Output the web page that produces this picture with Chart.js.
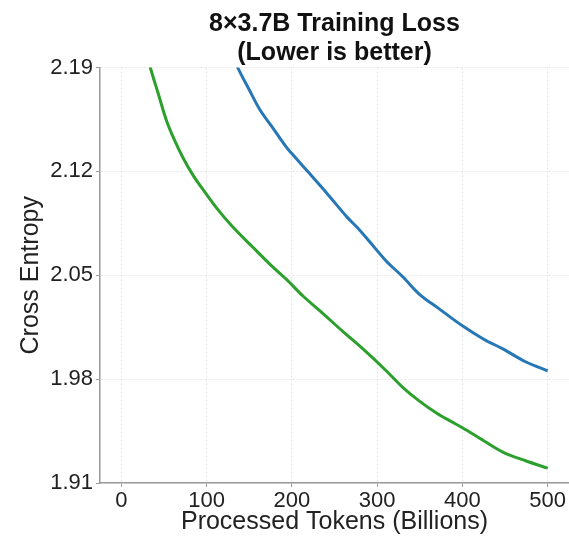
<!DOCTYPE html>
<html>
<head>
<meta charset="utf-8">
<script src="https://cdn.jsdelivr.net/npm/chart.js@4.4.1/dist/chart.umd.min.js"></script>
<style>
  html, body { margin: 0; padding: 0; background: #fff; }
  #wrap { width: 569px; height: 539px; }
</style>
</head>
<body>
<div id="wrap"><canvas id="lossChart" width="569" height="539"></canvas></div>
<script>
// values (tokens in billions, cross entropy)
const greenTokens = [30, 34, 43, 52.5, 62, 72, 84, 98, 113, 130, 154, 175, 194, 213, 233, 260, 284, 310, 330, 350, 370, 385, 400, 425, 448, 474, 500];
const greenLoss = [2.199, 2.19, 2.173, 2.155, 2.1415, 2.1295, 2.1175, 2.106, 2.0944, 2.083, 2.069, 2.057, 2.047, 2.036, 2.026, 2.012, 2.0, 1.986, 1.9745, 1.965, 1.957, 1.952, 1.9472, 1.9385, 1.9307, 1.925, 1.920];

const blueTokens = [133, 136.5, 150, 162, 178, 194, 200, 220, 240, 265, 277, 292, 310, 330, 350, 370, 400, 425, 448, 474, 500];
const blueLoss = [2.195, 2.19, 2.175, 2.162, 2.149, 2.136, 2.132, 2.119, 2.106, 2.089, 2.082, 2.072, 2.060, 2.049, 2.037, 2.0285, 2.0159, 2.0069, 2.0002, 1.9917, 1.9856];

const xTicks = [0, 100, 200, 300, 400, 500];
const yTicks = [1.91, 1.98, 2.05, 2.12, 2.19];

const toPoints = (xs, ys) => xs.map((x, i) => ({ x: x, y: ys[i] }));

const fontFam = "'Liberation Sans', Arial, sans-serif";
const axisGray = '#9a9a9a';
const gridGray = '#e6e6e6';

const ctx = document.getElementById('lossChart').getContext('2d');
new Chart(ctx, {
  type: 'line',
  data: {
    datasets: [
      { label: 'blue', data: toPoints(blueTokens, blueLoss), borderColor: '#2677b5', borderWidth: 3, pointRadius: 0, cubicInterpolationMode: 'monotone' },
      { label: 'green', data: toPoints(greenTokens, greenLoss), borderColor: '#2ca02c', borderWidth: 3, pointRadius: 0, cubicInterpolationMode: 'monotone' }
    ]
  },
  options: {
    responsive: false,
    animation: false,
    layout: { padding: 0 },
    plugins: {
      legend: { display: false },
      tooltip: { enabled: false },
      title: {
        display: true,
        fullSize: false,
        text: ['8×3.7B Training Loss', '(Lower is better)'],
        color: '#111',
        font: { family: fontFam, size: 25, weight: 'bold', lineHeight: 1.15 },
        padding: { top: 10, bottom: 0 }
      }
    },
    scales: {
      x: {
        type: 'linear',
        min: -25,
        max: 525,
        afterBuildTicks: s => { s.ticks = xTicks.map(v => ({ value: v })); },
        afterFit: s => { s.height = 56; },
        ticks: { color: '#222', font: { family: fontFam, size: 22 }, padding: 1, maxRotation: 0 },
        grid: { color: gridGray, tickColor: axisGray, tickLength: 4 },
        border: { color: axisGray, width: 1.5, dash: [2, 2] },
        title: { display: true, text: 'Processed Tokens (Billions)', color: '#222', font: { family: fontFam, size: 25 }, padding: { top: 0, bottom: 2 } }
      },
      y: {
        min: 1.91,
        max: 2.19,
        afterBuildTicks: s => { s.ticks = yTicks.map(v => ({ value: v })); },
        afterFit: s => { s.width = 100; },
        ticks: { color: '#222', font: { family: fontFam, size: 22 }, padding: 3, callback: v => v.toFixed(2) },
        grid: { color: gridGray, tickColor: axisGray, tickLength: 4 },
        border: { color: axisGray, width: 1.5, dash: [2, 2] },
        title: { display: true, text: 'Cross Entropy', color: '#222', font: { family: fontFam, size: 25 }, padding: { top: 16, bottom: 0 } }
      }
    }
  }
});
</script>
</body>
</html>
